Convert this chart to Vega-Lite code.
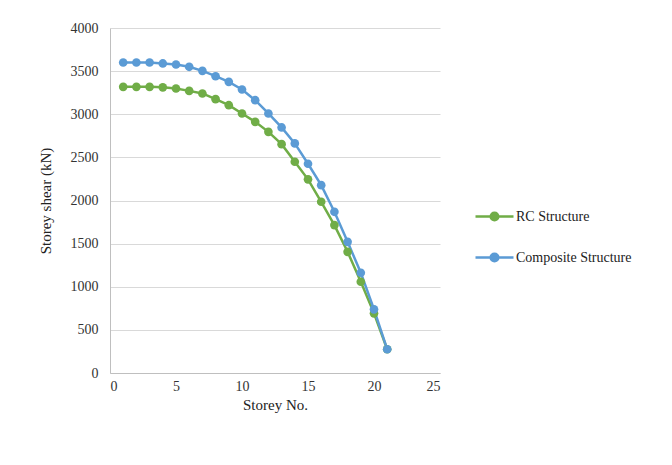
{
  "$schema": "https://vega.github.io/schema/vega-lite/v6.json",
  "width": 330,
  "height": 345,
  "autosize": {"type": "none"},
  "padding": {"left": 110, "top": 28, "right": 232, "bottom": 92},
  "background": "white",
  "config": {
    "view": {"stroke": null},
    "font": "Liberation Serif, serif",
    "style": {"guide-label": {"font": "Liberation Serif, serif", "fontSize": 14}, "guide-title": {"font": "Liberation Serif, serif"}},
    "axis": {"labelFont": "Liberation Serif, serif", "titleFont": "Liberation Serif, serif", "labelColor": "#333333", "titleColor": "#222222", "labelFontSize": 14, "titleFontSize": 15, "titleFontWeight": "normal", "gridColor": "#d9d9d9", "domainColor": "#bfbfbf", "ticks": false},
    "legend": {"labelFont": "Liberation Serif, serif"}
  },
  "data": {"values": [
    {"storey": 1, "series": "RC Structure", "shear": 3318},
    {"storey": 2, "series": "RC Structure", "shear": 3318},
    {"storey": 3, "series": "RC Structure", "shear": 3318},
    {"storey": 4, "series": "RC Structure", "shear": 3312},
    {"storey": 5, "series": "RC Structure", "shear": 3299},
    {"storey": 6, "series": "RC Structure", "shear": 3271},
    {"storey": 7, "series": "RC Structure", "shear": 3241},
    {"storey": 8, "series": "RC Structure", "shear": 3175},
    {"storey": 9, "series": "RC Structure", "shear": 3105},
    {"storey": 10, "series": "RC Structure", "shear": 3009},
    {"storey": 11, "series": "RC Structure", "shear": 2912},
    {"storey": 12, "series": "RC Structure", "shear": 2796},
    {"storey": 13, "series": "RC Structure", "shear": 2653},
    {"storey": 14, "series": "RC Structure", "shear": 2449},
    {"storey": 15, "series": "RC Structure", "shear": 2245},
    {"storey": 16, "series": "RC Structure", "shear": 1985},
    {"storey": 17, "series": "RC Structure", "shear": 1715},
    {"storey": 18, "series": "RC Structure", "shear": 1405},
    {"storey": 19, "series": "RC Structure", "shear": 1058},
    {"storey": 20, "series": "RC Structure", "shear": 692},
    {"storey": 21, "series": "RC Structure", "shear": 275},
    {"storey": 1, "series": "Composite Structure", "shear": 3600},
    {"storey": 2, "series": "Composite Structure", "shear": 3600},
    {"storey": 3, "series": "Composite Structure", "shear": 3600},
    {"storey": 4, "series": "Composite Structure", "shear": 3589},
    {"storey": 5, "series": "Composite Structure", "shear": 3577},
    {"storey": 6, "series": "Composite Structure", "shear": 3550},
    {"storey": 7, "series": "Composite Structure", "shear": 3503},
    {"storey": 8, "series": "Composite Structure", "shear": 3441},
    {"storey": 9, "series": "Composite Structure", "shear": 3376},
    {"storey": 10, "series": "Composite Structure", "shear": 3287},
    {"storey": 11, "series": "Composite Structure", "shear": 3163},
    {"storey": 12, "series": "Composite Structure", "shear": 3009},
    {"storey": 13, "series": "Composite Structure", "shear": 2847},
    {"storey": 14, "series": "Composite Structure", "shear": 2662},
    {"storey": 15, "series": "Composite Structure", "shear": 2426},
    {"storey": 16, "series": "Composite Structure", "shear": 2178},
    {"storey": 17, "series": "Composite Structure", "shear": 1869},
    {"storey": 18, "series": "Composite Structure", "shear": 1521},
    {"storey": 19, "series": "Composite Structure", "shear": 1162},
    {"storey": 20, "series": "Composite Structure", "shear": 738},
    {"storey": 21, "series": "Composite Structure", "shear": 275}
  ]},
  "encoding": {
    "x": {"field": "storey", "type": "quantitative", "title": "Storey No.", "scale": {"domain": [0, 25], "nice": false}, "axis": {"values": [0, 5, 10, 15, 20, 25], "format": "d", "grid": false, "labelPadding": 6, "titlePadding": 4, "labelFont": "Liberation Serif, serif", "labelFontSize": 14}},
    "y": {"field": "shear", "type": "quantitative", "title": "Storey shear (kN)", "scale": {"domain": [0, 4000], "nice": false}, "axis": {"values": [0, 500, 1000, 1500, 2000, 2500, 3000, 3500, 4000], "format": "d", "labelPadding": 12, "titlePadding": 17, "labelFont": "Liberation Serif, serif", "labelFontSize": 14}},
    "color": {"field": "series", "type": "nominal", "sort": ["RC Structure", "Composite Structure"], "scale": {"domain": ["RC Structure", "Composite Structure"], "range": ["#70AD47", "#5B9BD5"]},
      "legend": {"title": null, "orient": "none", "legendX": 364, "legendY": 168, "symbolType": "M-1,0L1,0M-0.2,0A0.2,0.2 0 1,1 0.2,0A0.2,0.2 0 1,1 -0.2,0Z", "symbolSize": 1444, "symbolStrokeWidth": 2.5, "labelFont": "Liberation Serif, serif", "labelFontSize": 14, "labelColor": "#222222", "rowPadding": 11, "labelOffset": 1}}
  },
  "layer": [
    {"mark": {"type": "line", "strokeWidth": 2.5}},
    {"mark": {"type": "point", "filled": true, "size": 75, "opacity": 1}}
  ]
}
